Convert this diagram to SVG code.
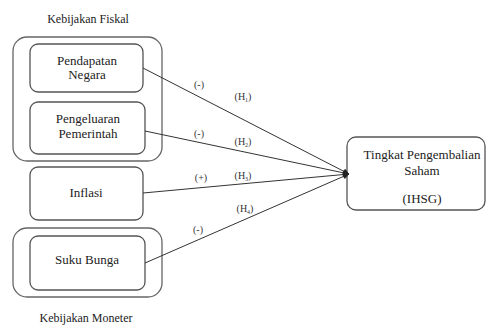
<svg xmlns="http://www.w3.org/2000/svg" width="488" height="325" viewBox="0 0 488 325">
<style>
.box{fill:#fff;stroke:#555;stroke-width:1.3}
.grp{fill:none;stroke:#666;stroke-width:1.3}
text{font-family:'Liberation Serif','DejaVu Serif',serif;fill:#222;text-anchor:middle}
.t{font-size:13px}
.c{font-size:12px}
.l{font-size:10px;fill:#333}
.s{font-size:6px}
.e{fill:none;stroke:#333;stroke-width:1}
</style>
<defs>
<marker id="ah" viewBox="0 0 10 10" refX="10" refY="5" markerWidth="7" markerHeight="6" orient="auto" markerUnits="userSpaceOnUse">
<path d="M0,0 L10,5 L0,10 z" fill="#222"/>
</marker>
</defs>
<g id="fiskal">
<rect class="grp" x="13" y="37" width="149" height="124" rx="14"/>
<text class="c" x="88" y="23">Kebijakan Fiskal</text>
</g>
<g id="moneter">
<rect class="grp" x="13" y="228" width="149" height="69" rx="14"/>
<text class="c" x="86" y="322">Kebijakan Moneter</text>
</g>
<g id="pendapatan">
<rect class="box" x="30" y="44" width="113" height="48" rx="8"/>
<text class="t" x="87" y="65">Pendapatan</text>
<text class="t" x="87" y="79">Negara</text>
</g>
<g id="pengeluaran">
<rect class="box" x="30" y="102" width="115" height="52" rx="8"/>
<text class="t" x="88" y="123">Pengeluaran</text>
<text class="t" x="88" y="138">Pemerintah</text>
</g>
<g id="inflasi">
<rect class="box" x="30" y="167" width="113" height="53" rx="8"/>
<text class="t" x="86" y="197">Inflasi</text>
</g>
<g id="sukubunga">
<rect class="box" x="30" y="236" width="115" height="54" rx="8"/>
<text class="t" x="87" y="264">Suku Bunga</text>
</g>
<g id="ihsg">
<rect class="box" x="347" y="137" width="138" height="73" rx="9"/>
<text class="t" x="422" y="159">Tingkat Pengembalian</text>
<text class="t" x="422" y="175">Saham</text>
<text class="t" x="422" y="203">(IHSG)</text>
</g>
<g id="connectors">
<line class="e" x1="143" y1="68" x2="349" y2="174" marker-end="url(#ah)"/>
<line class="e" x1="145" y1="131" x2="349" y2="174" marker-end="url(#ah)"/>
<line class="e" x1="143" y1="193" x2="349" y2="174" marker-end="url(#ah)"/>
<line class="e" x1="145" y1="263" x2="349" y2="174" marker-end="url(#ah)"/>
<text class="l" x="199" y="88">(-)</text>
<text class="l" x="243" y="100">(H<tspan class="s" dy="2">1</tspan><tspan dy="-2">)</tspan></text>
<text class="l" x="199" y="137">(-)</text>
<text class="l" x="243" y="145">(H<tspan class="s" dy="2">2</tspan><tspan dy="-2">)</tspan></text>
<text class="l" x="201" y="181">(+)</text>
<text class="l" x="243" y="179">(H<tspan class="s" dy="2">3</tspan><tspan dy="-2">)</tspan></text>
<text class="l" x="245" y="212">(H<tspan class="s" dy="2">4</tspan><tspan dy="-2">)</tspan></text>
<text class="l" x="198" y="233">(-)</text>
</g>
</svg>
